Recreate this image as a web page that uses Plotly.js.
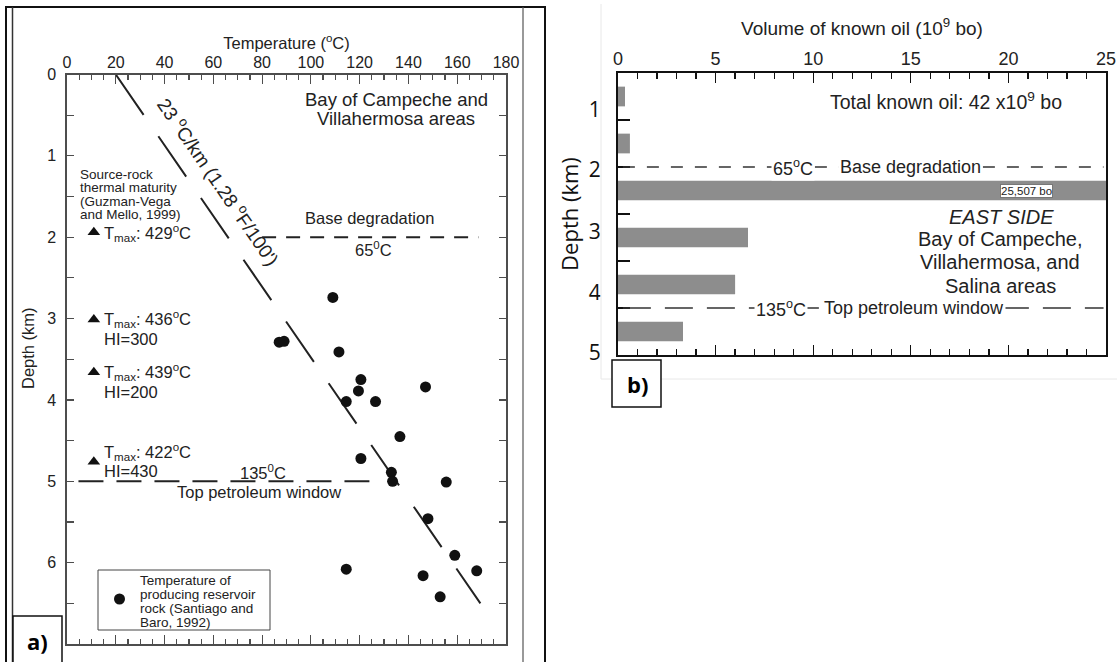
<!DOCTYPE html>
<html><head><meta charset="utf-8">
<script src="https://cdn.plot.ly/plotly-3.0.1.min.js"></script>
<style>html,body{margin:0;padding:0;background:#fff;}#chart{width:1117px;height:662px;}</style>
</head><body><div id="chart"></div>
<script>
// ---------------- Panel a data ----------------
const reservoirTempC  = [109, 87, 89, 111.5, 120.5, 119.5, 114.5, 126.5, 147, 136.5, 120.5, 133, 133.5, 155.5, 148, 159, 114.5, 146, 168, 153];
const reservoirDepthKm = [2.74, 3.29, 3.28, 3.41, 3.75, 3.89, 4.02, 4.02, 3.84, 4.45, 4.72, 4.89, 5.0, 5.01, 5.46, 5.91, 6.08, 6.16, 6.10, 6.42];
const gradientTempC   = [20, 169.5];
const gradientDepthKm = [0, 6.5];
const tmaxDepthKm = [1.94, 3.01, 3.66, 4.76];
const tmaxText = ['T<sub>max</sub>: 429<sup>o</sup>C', 'T<sub>max</sub>: 436<sup>o</sup>C', 'T<sub>max</sub>: 439<sup>o</sup>C', 'T<sub>max</sub>: 422<sup>o</sup>C'];
const hiText   = ['', 'HI=300', 'HI=200', 'HI=430'];
const tempTicks   = [0, 20, 40, 60, 80, 100, 120, 140, 160, 180];
const depthTicksA = [0, 1, 2, 3, 4, 5, 6];
const depthMinorA = [0.5, 1.5, 2.5, 3.5, 4.5, 5.5, 6.5];
const isothermDepthKm = [2, 5];           // 65 C base degradation, 135 C top petroleum window
const sourceRockLines = ['Source-rock', 'thermal maturity', '(Guzman-Vega', 'and Mello, 1999)'];
const legendLines = ['Temperature of', 'producing reservoir', 'rock (Santiago and', 'Baro, 1992)'];

// ---------------- Panel b data ----------------
const depthBinKm   = [0.5, 1.5, 2.5, 3.5, 4.5, 5.5];
const oilVolume    = [0.36, 0.61, 25.507, 6.66, 6.0, 3.33];
const volumeTicks  = [0, 5, 10, 15, 20, 25];
const depthTicksB  = [1, 2, 3, 4, 5];
const depthLabelPosB  = [0.79, 2.06, 3.38, 4.68, 5.96];
const depthLabelTextB = ['1', '2', '3', '4', '5'];
const eastSideLines = ['Bay of Campeche,', 'Villahermosa, and', 'Salina areas'];

// ---------------- helpers ----------------
const W = 1117, H = 662;
const px = x => x / W;
const py = y => 1 - y / H;
const FONT = 'Liberation Sans, Arial, Helvetica, sans-serif';
const FONT2 = 'Open Sans, Noto Sans, sans-serif';
const TXT = '#222';
const AX_A = '#4d4d4d';
const TMAX_X = 11;

const traces = [
  { type:'scatter', mode:'lines', x: gradientTempC, y: gradientDepthKm, xaxis:'x', yaxis:'y',
    line:{color:'#222', width:2, dash:'49px,26px'}, showlegend:false, hoverinfo:'skip' },
  { type:'scatter', mode:'markers', x: reservoirTempC, y: reservoirDepthKm, xaxis:'x', yaxis:'y',
    marker:{color:'#111', size:11, symbol:'circle'}, showlegend:false,
    name:'Temperature of producing reservoir rock (Santiago and Baro, 1992)' },
  { type:'scatter', mode:'markers', x: tmaxDepthKm.map(() => TMAX_X), y: tmaxDepthKm, xaxis:'x', yaxis:'y',
    marker:{color:'#111', size:11, symbol:'triangle-up'}, showlegend:false },
  { type:'bar', orientation:'h', x: oilVolume, y: depthBinKm, xaxis:'x2', yaxis:'y2', width:0.42,
    marker:{color:'#8d8d8d', line:{width:0}}, showlegend:false },
  // carrier so the depth-label axis (y3) gets drawn
  { type:'scatter', mode:'markers', x:[null], y:[null], xaxis:'x2', yaxis:'y3', showlegend:false, hoverinfo:'skip' }
];

const annotations = [];
const ann = o => annotations.push(Object.assign({showarrow:false, xanchor:'center', yanchor:'middle', font:{family:FONT, size:16.5, color:TXT}}, o));

// Panel a annotations
ann({text:'Depth (km)', xref:'paper', yref:'paper', x:px(28), y:py(348), textangle:-90, font:{family:FONT, size:16.5, color:TXT}});
ann({text:'Bay of Campeche and', xref:'x', yref:'y', x:134.9, y:0.31, font:{family:FONT, size:18.5, color:TXT}});
ann({text:'Villahermosa areas', xref:'x', yref:'y', x:134.9, y:0.535, font:{family:FONT, size:18.5, color:TXT}});
sourceRockLines.forEach((t, i) => ann({text:t, xref:'x', yref:'y', x:4.5, y:1.23 + i*0.163, xanchor:'left', font:{family:FONT, size:13.5, color:TXT}}));
tmaxDepthKm.forEach((d, i) => {
  const two = hiText[i] !== '';
  const shift1 = (i === 3) ? 10 : (i === 0 ? -1 : 0);
  ann({text:tmaxText[i], xref:'x', yref:'y', x:TMAX_X, y:d, xanchor:'left', xshift:8, yshift:shift1, font:{family:FONT, size:16.5, color:TXT}});
  if (two) ann({text:hiText[i], xref:'x', yref:'y', x:TMAX_X, y:d, xanchor:'left', xshift:8, yshift:shift1 - 19.5, font:{family:FONT, size:16.5, color:TXT}});
});
ann({text:'Base degradation', xref:'x', yref:'y', x:124, y:isothermDepthKm[0] - 0.24});
ann({text:'65<sup>0</sup>C', xref:'x', yref:'y', x:125.5, y:isothermDepthKm[0] + 0.15});
ann({text:'135<sup>0</sup>C', xref:'x', yref:'y', x:80.2, y:isothermDepthKm[1] - 0.12});
ann({text:'Top petroleum window', xref:'x', yref:'y', x:78.7, y:isothermDepthKm[1] + 0.13});
ann({text:"23 <sup>o</sup>C/km (1.28 <sup>o</sup>F/100')", xref:'x', yref:'y', x:58.5, y:1.385, xshift:9, yshift:6, textangle:55.5, font:{family:FONT, size:19, color:TXT}});
// legend text (panel a)
legendLines.forEach((t, i) => ann({text:t, xref:'paper', yref:'paper', x:px(138), y:py(580 + i*14), xanchor:'left', font:{family:FONT, size:13.5, color:TXT}}));

// Panel b annotations
ann({text:'Total known oil: 42 x10<sup>9</sup> bo', xref:'x2', yref:'y2', x:16.8, y:0.6, font:{family:FONT, size:19.5, color:TXT}});
ann({text:'65<sup>o</sup>C', xref:'x2', yref:'y2', x:8.97, y:isothermDepthKm[0], bgcolor:'#fff', font:{family:FONT, size:18, color:TXT}});
ann({text:'Base degradation', xref:'x2', yref:'y2', x:14.96, y:isothermDepthKm[0], bgcolor:'#fff', font:{family:FONT, size:18, color:TXT}});
ann({text:'135<sup>o</sup>C', xref:'x2', yref:'y2', x:8.35, y:isothermDepthKm[1], bgcolor:'#fff', font:{family:FONT, size:18, color:TXT}});
ann({text:'Top petroleum window', xref:'x2', yref:'y2', x:15.14, y:isothermDepthKm[1], bgcolor:'#fff', font:{family:FONT, size:18, color:TXT}});
ann({text:'25,507 bo', xref:'x2', yref:'y2', x:20.95, y:depthBinKm[2], bgcolor:'#fff', bordercolor:'#777', borderwidth:1, borderpad:0, font:{family:FONT, size:11.5, color:TXT}});
ann({text:'<i>EAST SIDE</i>', xref:'x2', yref:'y2', x:19.67, y:3.06, font:{family:FONT, size:20, color:TXT}});
eastSideLines.forEach((t, i) => ann({text:t, xref:'x2', yref:'y2', x:19.57, y:3.53 + i*0.5, font:{family:FONT, size:20, color:TXT}}));

// panel labels
ann({text:'<b>a)</b>', xref:'paper', yref:'paper', x:px(37), y:py(641), font:{family:FONT2, size:22, color:'#000'}});
ann({text:'<b>b)</b>', xref:'paper', yref:'paper', x:px(637), y:py(384), font:{family:FONT2, size:22, color:'#000'}});

const shapes = [
  // panel a outer frame and inner scan borders
  {type:'rect', xref:'paper', yref:'paper', x0:px(6), x1:px(545), y0:py(667), y1:py(7), line:{color:'#111', width:2}},
  {type:'line', xref:'paper', yref:'paper', x0:px(12.5), x1:px(12.5), y0:py(667), y1:py(7), line:{color:'#333', width:1.5}},
  {type:'line', xref:'paper', yref:'paper', x0:px(523), x1:px(523), y0:py(667), y1:py(7), line:{color:'#555', width:1.2}},
  // panel b faint image border
  {type:'line', xref:'paper', yref:'paper', x0:px(601), x1:px(601), y0:py(379), y1:py(4), line:{color:'#e8e8e8', width:1}},
  {type:'line', xref:'paper', yref:'paper', x0:px(601), x1:px(1117), y0:py(379), y1:py(379), line:{color:'#e8e8e8', width:1}},
  // isotherm lines panel a
  {type:'line', xref:'x', yref:'y', x0:80, x1:168.7, y0:isothermDepthKm[0], y1:isothermDepthKm[0], line:{color:'#222', width:2, dash:'14px,10px'}},
  {type:'line', xref:'x', yref:'y', x0:4.7, x1:124, y0:isothermDepthKm[1], y1:isothermDepthKm[1], line:{color:'#222', width:2, dash:'25px,13px'}},
  // legend box + symbol (panel a)
  {type:'rect', xref:'paper', yref:'paper', x0:px(98), x1:px(270), y0:py(630), y1:py(570), line:{color:'#444', width:1}, fillcolor:'#fff', layer:'below'},
  {type:'circle', xref:'paper', yref:'paper', x0:px(114), x1:px(125), y0:py(604.5), y1:py(593.5), line:{width:0}, fillcolor:'#111'},
  // isotherm lines panel b
  {type:'line', xref:'x2 domain', yref:'y2', x0:0.01, x1:0.995, y0:isothermDepthKm[0], y1:isothermDepthKm[0], line:{color:'#333', width:1.5, dash:'12px,12px'}},
  {type:'line', xref:'x2 domain', yref:'y2', x0:0.01, x1:0.995, y0:isothermDepthKm[1], y1:isothermDepthKm[1], line:{color:'#333', width:1.5, dash:'28px,14px'}},
  // panel label boxes
  {type:'rect', xref:'paper', yref:'paper', x0:px(13), x1:px(62), y0:py(668), y1:py(616), line:{color:'#111', width:1.5}, fillcolor:'#fff'},
  {type:'rect', xref:'paper', yref:'paper', x0:px(612), x1:px(661), y0:py(407), y1:py(360), line:{color:'#111', width:1.5}, fillcolor:'#fff'}
];

const layout = {
  width: W, height: H, margin:{l:0, r:0, t:0, b:0}, autosize:false,
  paper_bgcolor:'#fff', plot_bgcolor:'rgba(0,0,0,0)',
  font:{family:FONT, color:TXT},
  showlegend:false,
  xaxis:{domain:[px(67), px(506)], range:[0, 180], side:'top', anchor:'y', tickvals:tempTicks,
         ticks:'inside', ticklen:9, tickwidth:1.2, tickcolor:AX_A,
         minor:{dtick:5, tick0:0, ticks:'inside', ticklen:5, tickwidth:1.2, tickcolor:AX_A},
         showline:true, linecolor:AX_A, linewidth:1.6, mirror:'ticks', showgrid:false, zeroline:false,
         tickfont:{family:FONT, size:16, color:TXT}, ticklabelstandoff:-1,
         title:{text:'Temperature (<sup>o</sup>C)', font:{family:FONT, size:16.5, color:TXT}, standoff:0}},
  yaxis:{domain:[py(644), py(74.5)], range:[7, 0], anchor:'x', tickvals:depthTicksA,
         ticks:'inside', ticklen:7, tickwidth:1.2, tickcolor:AX_A,
         minor:{tickvals:depthMinorA, ticks:'inside', ticklen:7, tickwidth:1.2, tickcolor:AX_A},
         showline:true, linecolor:AX_A, linewidth:1.6, mirror:'ticks', showgrid:false, zeroline:false,
         tickfont:{family:FONT, size:16, color:TXT}, ticklabelstandoff:6},
  xaxis2:{domain:[px(618), px(1106)], range:[0, 25], side:'top', anchor:'y2', tickvals:volumeTicks,
          ticks:'inside', ticklen:10, tickwidth:1.3, tickcolor:'#111',
          minor:{dtick:1, tick0:0, ticks:'inside', ticklen:6, tickwidth:1.3, tickcolor:'#111'},
          showline:true, linecolor:'#111', linewidth:2, mirror:'ticks', showgrid:false, zeroline:false,
          tickfont:{family:FONT, size:18, color:TXT}, ticklabelstandoff:-1,
          title:{text:'Volume of known oil (10<sup>9</sup> bo)', font:{family:FONT, size:19, color:TXT}, standoff:8}},
  yaxis2:{domain:[py(355), py(73)], range:[6, 0], anchor:'x2', tickvals:depthTicksB,
          ticks:'inside', ticklen:12, tickwidth:2, tickcolor:'#111', showticklabels:false,
          showline:true, linecolor:'#111', linewidth:2, mirror:true, showgrid:false, zeroline:false},
  yaxis3:{overlaying:'y2', anchor:'x2', side:'left', range:[6, 0], tickvals:depthLabelPosB, ticktext:depthLabelTextB,
          ticks:'outside', ticklen:12, tickcolor:'rgba(0,0,0,0)', showline:false, showgrid:false, zeroline:false,
          tickfont:{family:FONT2, size:21, color:'#111'},
          title:{text:'Depth (km)', font:{family:FONT2, size:22, color:'#111'}, standoff:4}},
  annotations, shapes
};

Plotly.newPlot('chart', traces, layout, {displayModeBar:false, staticPlot:true});
</script></body></html>
